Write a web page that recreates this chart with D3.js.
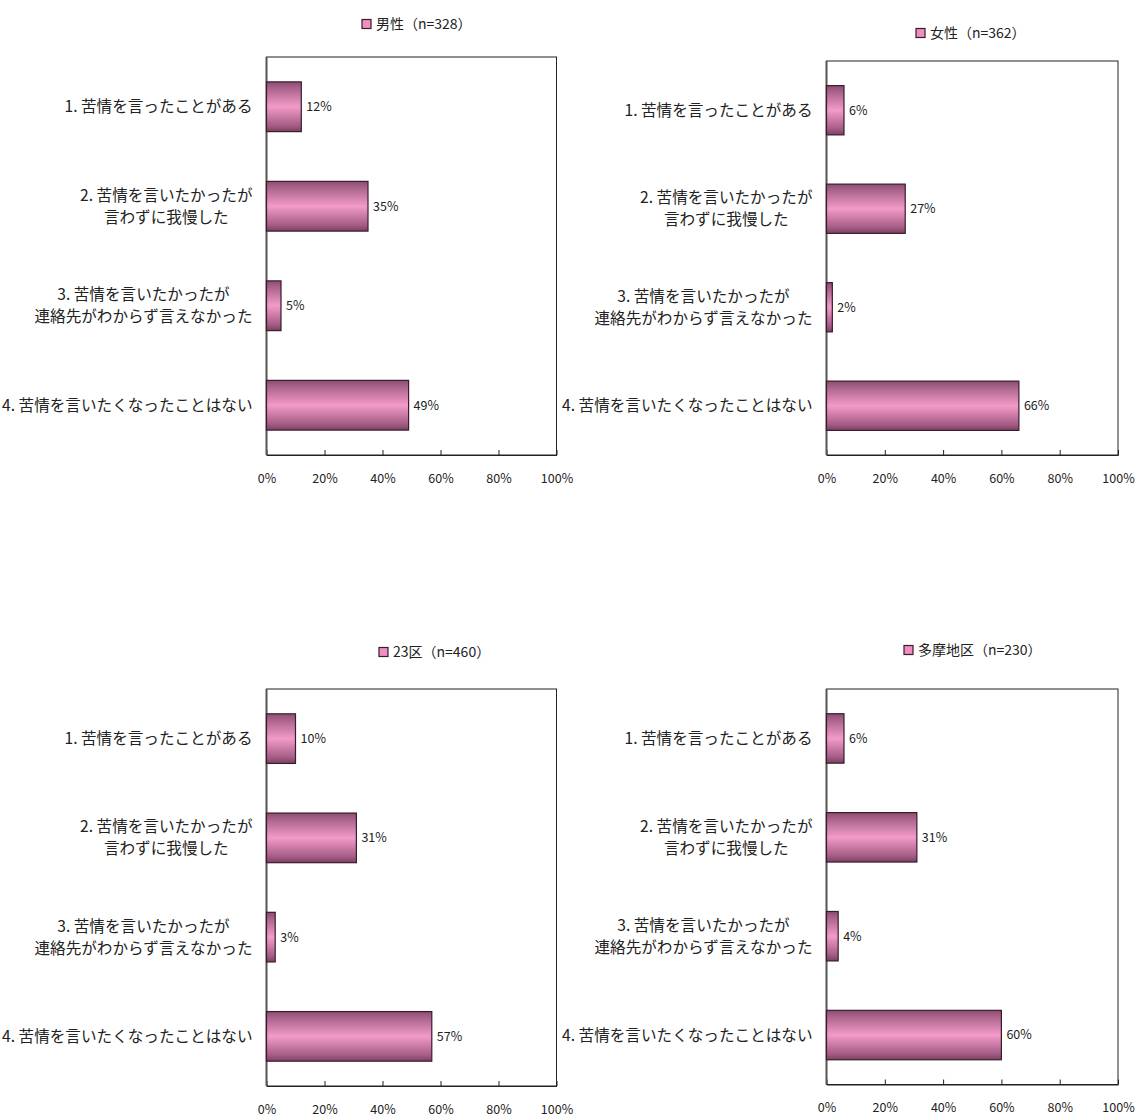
<!DOCTYPE html>
<html>
<head>
<meta charset="utf-8">
<script src="https://cdn.jsdelivr.net/npm/d3@7"></script>
<style>
  html, body { margin: 0; padding: 0; background: #fff; }
  svg { display: block; font-family: "Noto Sans CJK JP", "Noto Sans", sans-serif; }
</style>
</head>
<body>
<svg id="chart" width="1136" height="1117"></svg>
<script>
// Answer options (each entry is one category; multi-line labels as arrays)
const categories = [
  ["1. 苦情を言ったことがある"],
  ["2. 苦情を言いたかったが", "言わずに我慢した"],
  ["3. 苦情を言いたかったが", "連絡先がわからず言えなかった"],
  ["4. 苦情を言いたくなったことはない"]
];

// Series names (legend text)
const seriesNames = ["男性（n=328）", "女性（n=362）", "23区（n=460）", "多摩地区（n=230）"];

// Percentages per series, in category order
const maleValues   = [12, 35, 5, 49];
const femaleValues = [6, 27, 2, 66];
const ku23Values   = [10, 31, 3, 57];
const tamaValues   = [6, 31, 4, 60];
const seriesValues = [maleValues, femaleValues, ku23Values, tamaValues];

// Axis ticks
const xTicks = [0, 20, 40, 60, 80, 100];

// Panel placement on the page
const panels = [
  { x0: 266.5, x1: 556.5, y0: 57,  y1: 455,  legendX: 362, legendY: 24 },
  { x0: 826.5, x1: 1118,  y0: 61,  y1: 455,  legendX: 916, legendY: 33 },
  { x0: 266.5, x1: 556.5, y0: 689, y1: 1086, legendX: 379, legendY: 652 },
  { x0: 826.5, x1: 1118,  y0: 689, y1: 1084.5, legendX: 904, legendY: 650 }
];

const svg = d3.select("#chart");

// Bar fill: cylinder-like vertical shading
const defs = svg.append("defs");
const grad = defs.append("linearGradient")
  .attr("id", "barShade").attr("x1", 0).attr("y1", 0).attr("x2", 0).attr("y2", 1);
[[0, "#8e4c70"], [0.12, "#a8628a"], [0.5, "#f39bc8"], [0.88, "#a45c85"], [1, "#7c405f"]]
  .forEach(([o, c]) => grad.append("stop").attr("offset", o).attr("stop-color", c));

panels.forEach((p, i) => {
  const values = seriesValues[i];
  const g = svg.append("g");

  const x = d3.scaleLinear().domain([0, 100]).range([p.x0, p.x1]);
  const y = d3.scaleBand().domain(d3.range(categories.length)).range([p.y0, p.y1])
    .paddingInner(0.5).paddingOuter(0.25);

  // Plot frame
  g.append("rect")
    .attr("x", p.x0).attr("y", p.y0)
    .attr("width", p.x1 - p.x0).attr("height", p.y1 - p.y0)
    .attr("fill", "none").attr("stroke", "#222").attr("stroke-width", 1);

  // Bottom axis with inward ticks
  const ax = g.append("g")
    .attr("transform", `translate(0,${p.y1})`)
    .call(d3.axisBottom(x).tickValues(xTicks).tickFormat(d => d + "%")
      .tickSizeInner(-5).tickSizeOuter(0).tickPadding(19));
  ax.select(".domain").attr("stroke", "#222");
  ax.selectAll(".tick line").attr("stroke", "#222");
  ax.selectAll(".tick text").attr("font-size", 12.5).attr("fill", "#222")
    .attr("font-family", "\"Noto Sans CJK JP\", sans-serif");

  // Category axis line
  g.append("line")
    .attr("x1", p.x0).attr("x2", p.x0).attr("y1", p.y0).attr("y2", p.y1)
    .attr("stroke", "#555").attr("stroke-width", 2);

  // Bars
  g.selectAll("rect.bar").data(values).join("rect")
    .attr("class", "bar")
    .attr("x", x(0))
    .attr("y", (d, j) => y(j))
    .attr("width", d => x(d) - x(0))
    .attr("height", y.bandwidth())
    .attr("fill", "url(#barShade)")
    .attr("stroke", "#3a1c2d").attr("stroke-width", 1.2);

  // Value labels
  g.selectAll("text.val").data(values).join("text")
    .attr("class", "val")
    .attr("x", d => x(d) + 5)
    .attr("y", (d, j) => y(j) + y.bandwidth() / 2)
    .attr("dy", "0.35em")
    .attr("font-size", 12.5).attr("fill", "#222")
    .text(d => d + "%");

  // Category labels: block right-aligned, lines centred within block
  const right = p.x0 - 14;
  categories.forEach((lines, j) => {
    const cy = y(j) + y.bandwidth() / 2;
    const lh = 22;
    const t = g.append("text").attr("font-size", 15.6).attr("fill", "#222")
      .attr("text-anchor", "middle");
    const spans = lines.map((s, k) => t.append("tspan")
      .attr("y", cy + (k - (lines.length - 1) / 2) * lh)
      .attr("dy", "0.35em").text(s));
    const w = d3.max(spans, s => s.node().getComputedTextLength());
    spans.forEach(s => s.attr("x", right - w / 2));
  });

  // Legend
  const lg = g.append("g").attr("transform", `translate(${p.legendX},${p.legendY})`);
  lg.append("rect").attr("x", 0).attr("y", -4.5).attr("width", 9).attr("height", 9)
    .attr("fill", "#ee8fbf").attr("stroke", "#3a1c2d").attr("stroke-width", 1.2);
  lg.append("text").attr("x", 14).attr("y", 0).attr("dy", "0.35em")
    .attr("font-size", 14).attr("fill", "#222").text(seriesNames[i]);
});
</script>
</body>
</html>
